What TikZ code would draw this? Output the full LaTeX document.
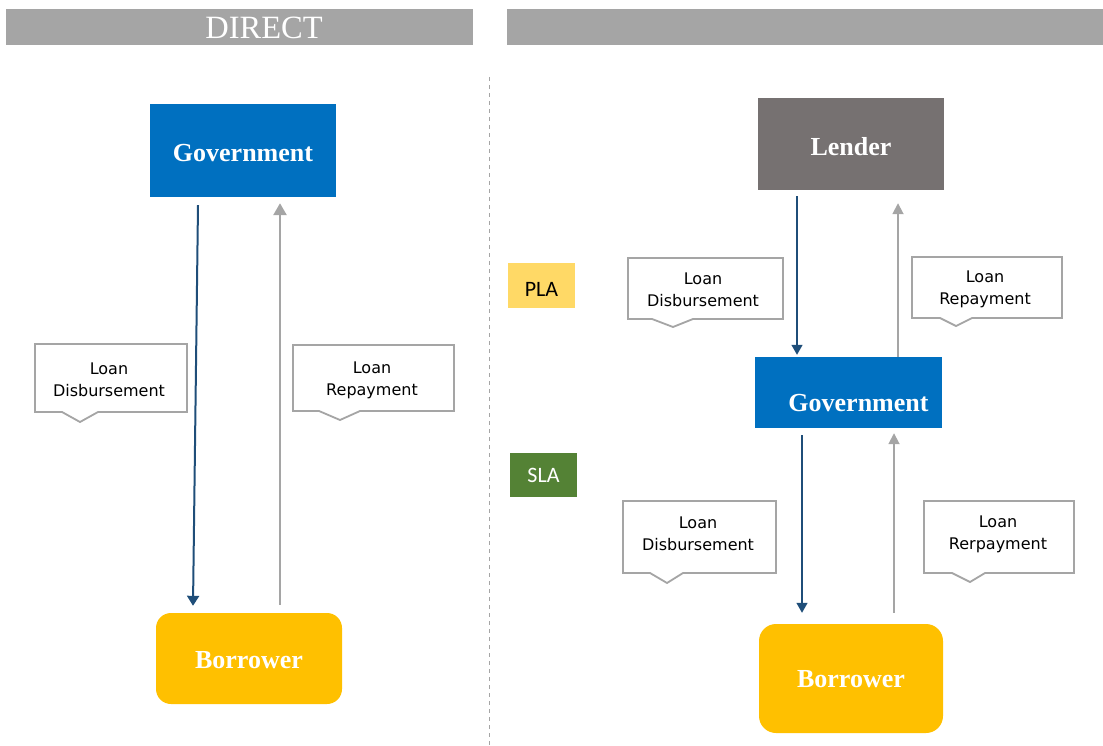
\documentclass[tikz,border=0pt]{standalone}
\usepackage{fontspec}
\setmainfont{Liberation Serif}
\newfontfamily\calloutfont{DejaVu Sans}
\newfontfamily\tagfont{Carlito}
\usetikzlibrary{arrows.meta}

\definecolor{govblue}{HTML}{0070C0}
\definecolor{borrowgold}{HTML}{FFC000}
\definecolor{lendergray}{HTML}{767171}
\definecolor{bargray}{HTML}{A5A5A5}
\definecolor{flowblue}{HTML}{1F4E79}
\definecolor{plagold}{HTML}{FFD966}
\definecolor{slagreen}{HTML}{548235}

% lower a label inside its box without changing the box size
\newcommand{\droplabel}[2]{\raisebox{-#1}[\height][\depth]{#2}}

\tikzset{
  headbar/.style={fill=bargray, draw=none, inner sep=0pt},
  entity/.style={draw=none, inner sep=0pt, text=white,
    font=\fontsize{26}{30}\selectfont\bfseries},
  boxlabel/.style={inner sep=0pt, text=white,
    font=\fontsize{26}{30}\selectfont\bfseries},
  tagbox/.style={draw=none, inner sep=0pt,
    font=\tagfont\fontsize{22}{24}\selectfont},
  bubble/.style={fill=white, draw=bargray, line width=1.8pt, line join=miter},
  bubbletext/.style={inner sep=0pt, align=center,
    font=\calloutfont\fontsize{16}{22}\selectfont},
  payout/.style={draw=flowblue, line width=2pt,
    -{Triangle[width=12pt,length=10pt]}},
  payback/.style={draw=bargray, line width=2.6pt,
    -{Triangle[width=13pt,length=12pt]}},
  payoutthin/.style={draw=flowblue, line width=1.4pt,
    -{Triangle[width=11pt,length=10pt]}},
  paybackthin/.style={draw=bargray, line width=1.8pt,
    -{Triangle[width=11pt,length=11pt]}},
  divider/.style={draw=bargray, line width=1pt, dash pattern=on 4pt off 4pt}
}

\begin{document}
\begin{tikzpicture}[x=1pt,y=-1pt]
\useasboundingbox (0,0) rectangle (1103,746);

% header bars
\node[headbar, minimum width=467pt, minimum height=36pt] (barL) at (239.5,27) {};
\node[inner sep=0pt, text=white, font=\fontsize{32.5}{36}\selectfont] (direct) at (264,28) {DIRECT};
\node[headbar, minimum width=596pt, minimum height=36pt] (barR) at (805,27) {};

% divider between the two schemes
\draw[divider] (489,77) -- (489,746);

% ---- direct lending ----
\node[entity, fill=govblue, minimum width=186pt, minimum height=93pt] (gov1) at (243,150.5) {\droplabel{3pt}{Government}};
\node[entity, fill=borrowgold, rounded corners=15pt, minimum width=186pt, minimum height=91pt] (bor1) at (249,658.5) {\droplabel{2pt}{Borrower}};

\draw[payout] ([xshift=-45pt,yshift=-8pt]gov1.south) -- ([xshift=-56pt,yshift=7pt]bor1.north);
\draw[payback] ([xshift=31pt,yshift=8pt]bor1.north) -- ([xshift=37pt,yshift=-6pt]gov1.south);

\draw[bubble] (35,344) -- (187,344) -- (187,412) -- (98,412) -- (80,422) -- (62,412) -- (35,412) -- cycle;
\node[bubbletext] (c1) at (109,380) {Loan\\Disbursement};
\draw[bubble] (293,345) -- (454,345) -- (454,411) -- (360,411) -- (340,420) -- (319,411) -- (293,411) -- cycle;
\node[bubbletext] (c2) at (372,380) {Loan\\Repayment};

% ---- on-lending ----
\node[entity, fill=lendergray, minimum width=186pt, minimum height=92pt] (lender) at (851,144) {\droplabel{3pt}{Lender}};
\node[entity, fill=govblue, minimum width=187pt, minimum height=71pt] (gov2) at (848.5,392.5) {};
\node[boxlabel] (gov2t) at (858.5,403) {Government};
\node[entity, fill=borrowgold, rounded corners=17pt, minimum width=184pt, minimum height=109pt] (bor2) at (851,678.5) {\droplabel{1pt}{Borrower}};

\node[tagbox, fill=plagold, minimum width=67pt, minimum height=45pt] (pla) at (541.5,285.5) {\droplabel{4pt}{PLA}};
\node[tagbox, fill=slagreen, text=white, minimum width=67pt, minimum height=44pt] (sla) at (543.5,475) {SLA};

\draw[payoutthin] ([xshift=-54pt,yshift=-6pt]lender.south) -- ([xshift=-51.5pt,yshift=2pt]gov2.north);
\draw[paybackthin] ([xshift=49.5pt]gov2.north) -- ([xshift=47pt,yshift=-13pt]lender.south);
\draw[payoutthin] ([xshift=-46.5pt,yshift=-7pt]gov2.south) -- ([xshift=-49pt,yshift=11pt]bor2.north);
\draw[paybackthin] ([xshift=43pt,yshift=11pt]bor2.north) -- ([xshift=45.5pt,yshift=-5pt]gov2.south);

\draw[bubble] (628,258) -- (783,258) -- (783,319) -- (693,319) -- (673,327) -- (652,319) -- (628,319) -- cycle;
\node[bubbletext] (c3) at (703,290) {Loan\\Disbursement};
\draw[bubble] (912,257) -- (1062,257) -- (1062,318) -- (972,318) -- (956,326) -- (940,318) -- (912,318) -- cycle;
\node[bubbletext] (c4) at (985,289) {Loan\\Repayment};
\draw[bubble] (623,501) -- (776,501) -- (776,573) -- (683,573) -- (667,583) -- (650,573) -- (623,573) -- cycle;
\node[bubbletext] (c5) at (698,534) {Loan\\Disbursement};
\draw[bubble] (924,501) -- (1074,501) -- (1074,573) -- (985,573) -- (970,582) -- (952,573) -- (924,573) -- cycle;
\node[bubbletext] (c6) at (998,534) {Loan\\Rerpayment};
\end{tikzpicture}
\end{document}
